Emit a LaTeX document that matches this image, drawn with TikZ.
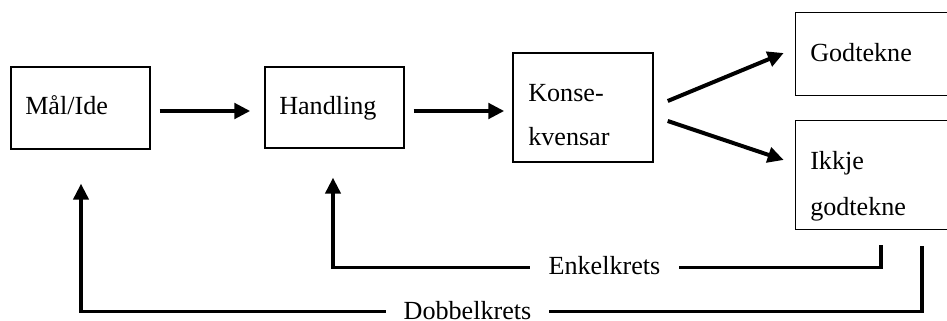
\documentclass[tikz,border=0pt]{standalone}
\usepackage{fontspec}
\setmainfont{Liberation Serif}
\usetikzlibrary{arrows.meta,calc}
\begin{document}
\begin{tikzpicture}[x=0.75pt,y=-0.75pt,
  box/.style={draw,line width=1.1pt,inner sep=0pt,rectangle},
  openbox/.style={inner sep=0pt,rectangle},
  edge/.style={line width=1.1pt},
  lbl/.style={anchor=base west,inner sep=0pt,font=\fontsize{19.6pt}{23pt}\selectfont},
  flow/.style={line width=3pt,-{Triangle[length=12pt,width=11.5pt]}},
  fback/.style={line width=2.6pt,-{Triangle[length=12pt,width=11.5pt]}},
  looplbl/.style={fill=white,inner ysep=1pt,anchor=base,font=\fontsize{19.6pt}{23pt}\selectfont}]
\useasboundingbox (0,0) rectangle (947,321);
% boxes
\node[box,minimum width=104.25pt,minimum height=61.5pt] (mal) at (80.5,108) {};
\node[box,minimum width=104.25pt,minimum height=60.75pt] (hand) at (334.5,107.5) {};
\node[box,minimum width=105pt,minimum height=81.75pt] (kons) at (583,107.5) {};
\node[openbox,minimum width=113.25pt,minimum height=61.5pt] (god) at (871.5,54) {};
\node[openbox,minimum width=113.25pt,minimum height=81pt] (ikkje) at (871.5,175) {};
\draw[edge] (god.north east) -- (god.north west) -- (god.south west) -- (god.south east);
\draw[edge] (ikkje.north east) -- (ikkje.north west) -- (ikkje.south west) -- (ikkje.south east);
% texts
\node[lbl] (t1) at (25,115) {Mål/Ide};
\node[lbl] (t2) at (279,115) {Handling};
\node[lbl] (t3) at (528,102) {Konse-};
\node[lbl] (t4) at (528,146) {kvensar};
\node[lbl] (t5) at (810,62) {Godtekne};
\node[lbl] (t6) at (810,170) {Ikkje};
\node[lbl] (t7) at (810,215) {godtekne};
% forward arrows
\draw[flow] ($(mal.east)+(9,3)$) -- ($(hand.west)+(-14,3.5)$);
\draw[flow] ($(hand.east)+(9,3.5)$) -- ($(kons.west)+(-8,3.5)$);
\draw[flow] ($(kons.east)+(14,-6.5)$) -- ($(god.west)+(-12,-1)$);
\draw[flow] ($(kons.east)+(14,13.5)$) -- ($(ikkje.west)+(-12,-15)$);
% feedback loops
\draw[fback] ($(ikkje.south)+(9.5,16)$) |- ($(hand.south)+(-1.5,119)$) -- ($(hand.south)+(-1.5,29)$);
\node[looplbl,inner xsep=14.25pt] (enk) at (604.5,274) {Enkelkrets};
\draw[fback] ($(ikkje.south)+(50.5,17)$) |- ($(mal.south)+(0.5,162)$) -- ($(mal.south)+(0.5,34)$);
\node[looplbl,inner xsep=13.5pt] (dob) at (467.5,319) {Dobbelkrets};
\end{tikzpicture}
\end{document}
